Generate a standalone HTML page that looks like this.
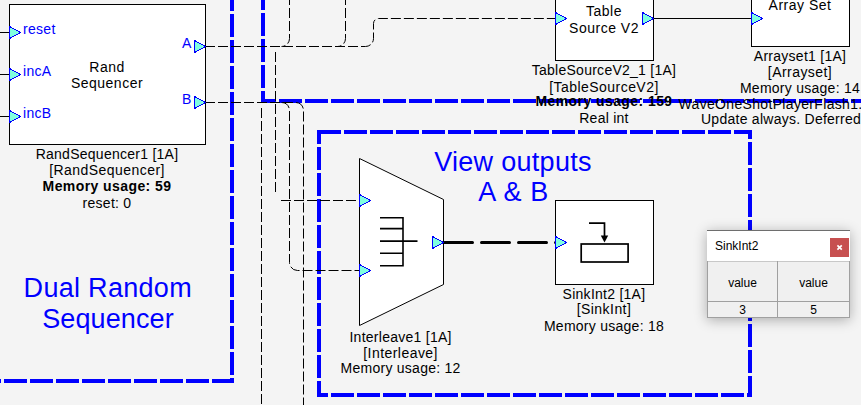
<!DOCTYPE html>
<html><head><meta charset="utf-8">
<style>
html,body{margin:0;padding:0;width:861px;height:405px;overflow:hidden;background:#f4f4f4;}
svg{position:absolute;left:0;top:0;}
text{font-family:"Liberation Sans",sans-serif;}
.lbl{font-size:14px;fill:#000;letter-spacing:0.26px;}
.win{position:absolute;left:707px;top:230px;width:143px;height:88px;background:#fff;box-shadow:0 2px 12px rgba(0,0,0,0.3);font-family:"Liberation Sans",sans-serif;}
</style></head>
<body>
<svg width="861" height="405" viewBox="0 0 861 405">
<!-- blue group rectangles -->
<g fill="none" stroke="#0000ff" stroke-width="4" stroke-dasharray="23 3" shape-rendering="crispEdges">
  <path d="M232 -12 L232 381 L-20 381"/>
  <path d="M263 -13 L263 101 L880 101"/>
  <path d="M319 132 H750 V395 H319 Z" stroke-dashoffset="1.5"/>
</g>

<!-- boxes -->
<g fill="#fff" stroke="#000" stroke-width="1" shape-rendering="crispEdges">
  <rect x="9.5" y="4.5" width="196" height="140"/>
  <rect x="555.5" y="-24.5" width="98" height="85"/>
  <rect x="751.5" y="-38.5" width="98" height="85"/>
  <rect x="555.5" y="200.5" width="98" height="84"/>
</g>
<path d="M359.5 158.5 L443.5 199.5 L443.5 284.5 L359.5 325.5 Z" fill="#fff" stroke="#000" stroke-width="1"/>

<!-- wires -->
<g fill="none" stroke="#000" stroke-width="1" stroke-dasharray="10 3">
  <path d="M0 32.5 H9"/>
  <path d="M0 74.5 H9"/>
  <path d="M0 116.5 H9"/>
  <path d="M205 46.5 H365.5 A8 8 0 0 0 373.5 38.5 V23.5 A5 5 0 0 1 378.5 18.5 H555"/>
  <path d="M289.5 -5 V38.5 A8 8 0 0 1 281.5 46.5"/>
  <path d="M345.5 -5 V38.5 A8 8 0 0 1 337.5 46.5"/>
  <path d="M275.5 52 V192"/><path d="M281 200.5 H359"/>
  <path d="M205 102.5 H295.5 A8 8 0 0 1 303.5 110.5 V410"/>
  <path d="M281.5 102.5 A8 8 0 0 1 289.5 110.5 V262.5 A8 8 0 0 0 297.5 270.5 H359"/>
  <path d="M261.5 108 V410"/>
</g>
<path d="M653 18.5 H751" stroke="#000" stroke-width="1"/>
<path d="M443 242.5 H557" stroke="#000" stroke-width="3" stroke-dasharray="28 9" stroke-dashoffset="-1.5" stroke-linecap="round" fill="none"/>

<!-- interleave icon -->
<g stroke="#000" stroke-width="1.6" fill="none">
  <path d="M380 217.7 H403.5 M380 228.6 H403.5 M380 241.1 H417.5 M380 253.3 H403.5 M380 265.8 H403.5 M403 216.9 V266.6"/>
</g>
<!-- sinkint icon -->
<g stroke="#000" stroke-width="1.7" fill="none">
  <rect x="581.2" y="244" width="46.9" height="18"/>
  <path d="M589 223.1 H604.5 V236"/>
</g>
<path d="M600.8 235.5 L608.2 235.5 L604.5 242.5 Z" fill="#000"/>

<!-- triangles -->
<g fill="#80ffe0" stroke="#0000ff" stroke-width="1" stroke-linejoin="bevel" shape-rendering="crispEdges">
  <path d="M9.5 26.5 L20.5 32.5 L9.5 38.5 Z"/>
  <path d="M9.5 68.5 L20.5 74.5 L9.5 80.5 Z"/>
  <path d="M9.5 110.5 L20.5 116.5 L9.5 122.5 Z"/>
  <path d="M194.5 40.5 L205.5 46.5 L194.5 52.5 Z"/>
  <path d="M194.5 96.5 L205.5 102.5 L194.5 108.5 Z"/>
  <path d="M555.5 12.5 L566.5 18.5 L555.5 24.5 Z"/>
  <path d="M642.5 12.5 L653.5 18.5 L642.5 24.5 Z"/>
  <path d="M751.5 12.5 L762.5 18.5 L751.5 24.5 Z"/>
  <path d="M359.5 194.5 L370.5 200.5 L359.5 206.5 Z"/>
  <path d="M359.5 264.5 L370.5 270.5 L359.5 276.5 Z"/>
  <path d="M432.5 236.5 L443.5 242.5 L432.5 248.5 Z"/>
  <path d="M555.5 236.5 L566.5 242.5 L555.5 248.5 Z"/>
</g>

<!-- port labels -->
<g fill="#0000ff" font-size="14" letter-spacing="0.3">
  <text x="23" y="34">reset</text>
  <text x="23" y="76">incA</text>
  <text x="23" y="118">incB</text>
  <text x="182" y="48">A</text>
  <text x="182" y="104">B</text>
</g>

<!-- box titles -->
<g class="lbl" text-anchor="middle" style="letter-spacing:0.5px">
  <text x="107" y="71.7">Rand</text>
  <text x="107" y="87.8">Sequencer</text>
  <text x="604" y="16.1">Table</text>
  <text x="604" y="32.6">Source V2</text>
  <text x="800" y="10">Array Set</text>
</g>

<!-- labels -->
<g class="lbl" text-anchor="middle">
  <text x="107" y="158.8">RandSequencer1 [1A]</text>
  <text x="107" y="174.6" style="letter-spacing:0.45px">[RandSequencer]</text>
  <text x="107" y="190.6" font-weight="bold" style="letter-spacing:0.42px">Memory usage: 59</text>
  <text x="107" y="207.5">reset: 0</text>

  <text x="604" y="75">TableSourceV2_1 [1A]</text>
  <text x="604" y="91.5" style="letter-spacing:0.45px">[TableSourceV2]</text>
  <text x="604" y="106.2" font-weight="bold" style="letter-spacing:0.42px">Memory usage: 159</text>
  <text x="604" y="123">Real int</text>

  <text x="800" y="61">Arrayset1 [1A]</text>
  <text x="800" y="77" style="letter-spacing:0.45px">[Arrayset]</text>
  <text x="800" y="93">Memory usage: 14</text>

  <text x="400.6" y="341.7">Interleave1 [1A]</text>
  <text x="400.6" y="358" style="letter-spacing:0.45px">[Interleave]</text>
  <text x="400.6" y="373.2">Memory usage: 12</text>

  <text x="604" y="299.3">SinkInt2 [1A]</text>
  <text x="604" y="314" style="letter-spacing:0.45px">[SinkInt]</text>
  <text x="604" y="330.7">Memory usage: 18</text>
</g>
<g class="lbl">
  <text x="678.5" y="108.5" style="letter-spacing:0.33px">WaveOneShotPlayerFlash1.wav</text>
  <text x="701" y="124.2">Update always. Deferred</text>
</g>

<!-- comments -->
<g fill="#0000ff" font-size="27" text-anchor="middle">
  <text x="107.8" y="297" letter-spacing="0.3">Dual Random</text>
  <text x="108" y="327.5" letter-spacing="0.1">Sequencer</text>
  <text x="513" y="171" letter-spacing="0.3">View outputs</text>
  <text x="513.5" y="200.5" letter-spacing="0.6">A &amp; B</text>
</g>
</svg>

<div class="win">
  <div style="position:absolute;left:0;top:0;width:143px;height:1px;background:#6e6e6e"></div>
    <div style="position:absolute;left:8px;top:9px;font-size:12px;line-height:14px;color:#000;">SinkInt2</div>
  <div style="position:absolute;left:123px;top:8px;width:19px;height:19px;background:#c75050;"><svg width="19" height="19" style="position:absolute;left:0;top:0"><path d="M7.4 7.4 L11.8 11.6 M11.8 7.4 L7.4 11.6" stroke="#fff" stroke-width="1.7"/></svg></div>
  <div style="position:absolute;left:0;top:31px;width:143px;height:56px;background:#f0f0f0;"></div>
  <div style="position:absolute;left:0;top:31px;width:143px;height:1px;background:#c8c8c8"></div>
  <div style="position:absolute;left:0;top:31px;width:1px;height:57px;background:#a0a0a0"></div>
  <div style="position:absolute;left:142px;top:31px;width:1px;height:57px;background:#a0a0a0"></div>
  <div style="position:absolute;left:70px;top:31px;width:1px;height:57px;background:#a0a0a0"></div>
  <div style="position:absolute;left:0;top:71px;width:143px;height:1px;background:#a0a0a0"></div>
  <div style="position:absolute;left:0;top:87px;width:143px;height:1px;background:#a0a0a0"></div>
  <div style="position:absolute;left:1px;top:46px;width:69px;text-align:center;font-size:12px;line-height:14px;">value</div>
  <div style="position:absolute;left:71px;top:46px;width:71px;text-align:center;font-size:12px;line-height:14px;">value</div>
  <div style="position:absolute;left:1px;top:73px;width:69px;text-align:center;font-size:12px;line-height:14px;">3</div>
  <div style="position:absolute;left:71px;top:73px;width:71px;text-align:center;font-size:12px;line-height:14px;">5</div>
</div>
</body></html>
